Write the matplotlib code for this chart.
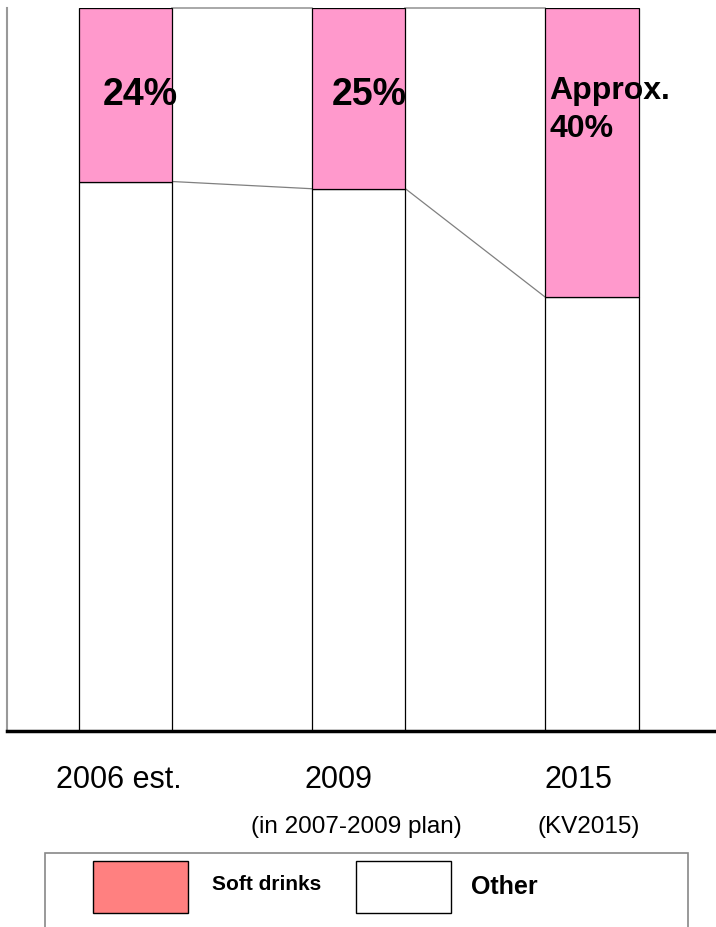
import matplotlib
matplotlib.use("Agg")
import matplotlib.pyplot as plt
from matplotlib.patches import Rectangle
import matplotlib.transforms as mtransforms

plt.rcParams['font.family'] = ['Liberation Sans', 'DejaVu Sans']

# ---- data ----
categories = ["2006 est.", "2009", "2015"]
sublabels = ["", "(in 2007-2009 plan)", "(KV2015)"]
soft_drinks = [24, 25, 40]
other = [76, 75, 60]
value_labels = ["24%", "25%", "Approx.\n40%"]
legend_labels = ["Soft drinks", "Other"]

# ---- styling / layout ----
W, H = 716, 927
pink = "#FF99CC"
legend_pink = "#FF8080"
bar_w = 0.4

fig = plt.figure(figsize=(W / 100, H / 100), dpi=100)
ax = fig.add_axes([7 / W, (H - 731) / H, (W - 7) / W, 723 / H])

x = list(range(len(categories)))
ax.bar(x, other, width=bar_w, color="white", edgecolor="black", linewidth=0.9, zorder=2)
ax.bar(x, soft_drinks, width=bar_w, bottom=other, color=pink, edgecolor="black",
       linewidth=0.9, zorder=2)

# connector lines between bars
tops = [o + s for o, s in zip(other, soft_drinks)]
for i in range(len(x) - 1):
    ax.plot([x[i] + bar_w / 2, x[i + 1] - bar_w / 2], [other[i], other[i + 1]],
            color="#808080", linewidth=0.9, zorder=1)
    ax.plot([x[i] + bar_w / 2, x[i + 1] - bar_w / 2], [tops[i], tops[i + 1]],
            color="#999999", linewidth=1.2, zorder=1, clip_on=False)

ax.set_xlim(-0.509, 2.532)
ax.set_ylim(0, 100)
ax.set_xticks([])
ax.set_yticks([])
for s in ("top", "right"):
    ax.spines[s].set_visible(False)
ax.spines["left"].set_color("#999999")
ax.spines["left"].set_linewidth(1.5)
ax.spines["bottom"].set_color("black")
ax.spines["bottom"].set_linewidth(2.5)
ax.spines["bottom"].set_zorder(3)

# value labels inside bars (baseline-anchored)
label_dx = [-0.097, -0.115, -0.183]
label_y = [86.6, 86.6, 82.2]
label_size = [27, 27, 23]
for i, t in enumerate(value_labels):
    ax.text(x[i] + label_dx[i], label_y[i], t, fontsize=label_size[i], fontweight="bold",
            ha="left", va="baseline", linespacing=1.33, zorder=4)

# category labels
trans = mtransforms.blended_transform_factory(ax.transData, ax.transAxes)
cat_dx = [-0.03, -0.088, -0.06]
sub_dx = [0, -0.011, -0.013]
for i, c in enumerate(categories):
    ax.text(x[i] + cat_dx[i], -0.068, c, fontsize=22, ha="center", va="center",
            transform=trans, clip_on=False)
    if sublabels[i]:
        ax.text(x[i] + sub_dx[i], -0.1328, sublabels[i], fontsize=17.5, ha="center",
                va="center", transform=trans, clip_on=False)

# legend box (partially beyond the bottom edge)
def px_rect(x0, y0, x1, y1, **kw):
    fig.add_artist(Rectangle((x0 / W, 1 - y1 / H), (x1 - x0) / W, (y1 - y0) / H,
                             transform=fig.transFigure, **kw))

px_rect(45, 853, 688, 960, facecolor="white", edgecolor="#888888", linewidth=1.2)
px_rect(93, 861, 188, 913, facecolor=legend_pink, edgecolor="black", linewidth=1.0)
px_rect(356, 861, 451, 913, facecolor="white", edgecolor="black", linewidth=1.0)
fig.text(212 / W, 1 - 884 / H, legend_labels[0], fontsize=15, fontweight="bold",
         ha="left", va="center")
fig.text(471 / W, 1 - 887 / H, legend_labels[1], fontsize=18, fontweight="bold",
         ha="left", va="center")

fig.savefig("out.png", dpi=100)
